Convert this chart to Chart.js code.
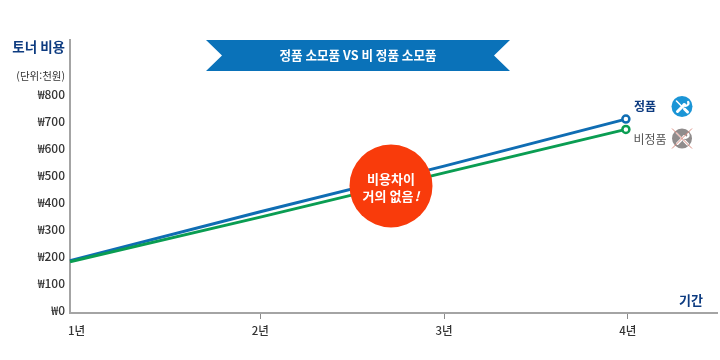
<!DOCTYPE html>
<html lang="ko">
<head>
<meta charset="utf-8">
<title>정품 소모품 VS 비 정품 소모품</title>
<style>
    html, body { margin: 0; padding: 0; background: #fff; }
    canvas { display: block; }
</style>
<script src="https://cdn.jsdelivr.net/npm/chart.js@4"></script>
</head>
<body>
<canvas id="toner-chart" width="720" height="360"></canvas>
<script>
// Values
const periods = [0.964, 2, 3, 3.99]; // the lines start on the axis, slightly left of the 1년 tick
const genuineCost = [183, 364, 533, 707];
const nonGenuineCost = [179, 344, 508, 669];
const xTickValues = [1, 2, 3, 4];
const xTickLabels = ['1년', '2년', '3년', '4년'];
const yTickValues = [0, 100, 200, 300, 400, 500, 600, 700, 800];

const FONT = '"Noto Sans CJK KR", "Noto Sans", sans-serif';
const NAVY = '#0d3b80';
const BLUE = '#0f6db3';
const GREEN = '#0a9d52';
const AXIS_GREY = '#a4a4a4';

function drawText(ctx, text, x, y, font, color, align) {
    ctx.font = font + ' ' + FONT;
    ctx.fillStyle = color;
    ctx.textAlign = align || 'left';
    ctx.textBaseline = 'middle';
    ctx.fillText(text, x, y);
}

function drawBanner(ctx) {
    ctx.fillStyle = '#0a72b9';
    ctx.beginPath();
    ctx.moveTo(206, 40);
    ctx.lineTo(510, 40);
    ctx.lineTo(494, 55.5);
    ctx.lineTo(510, 71);
    ctx.lineTo(206, 71);
    ctx.lineTo(222, 55.5);
    ctx.closePath();
    ctx.fill();
    drawText(ctx, '정품 소모품 VS 비 정품 소모품', 358, 55.5, 'bold 12.6px', '#fff', 'center');
}

function drawBubble(ctx) {
    ctx.fillStyle = '#f93b0b';
    ctx.beginPath();
    ctx.arc(391, 186, 41.5, 0, Math.PI * 2);
    ctx.fill();
    drawText(ctx, '비용차이', 391, 179.5, 'bold 13px', '#fff', 'center');
    drawText(ctx, '거의 없음', 388, 196.5, 'bold 13px', '#fff', 'center');
    drawText(ctx, '!', 417, 196.5, 'italic bold 13px', '#fff', 'center');
}

// Little wrench and screwdriver badge next to the series names
function drawToolIcon(ctx, cx, cy, radius, fill) {
    ctx.save();
    ctx.translate(cx, cy);
    ctx.fillStyle = fill;
    ctx.beginPath();
    ctx.arc(0, 0, radius, 0, Math.PI * 2);
    ctx.fill();
    ctx.strokeStyle = '#fff';
    ctx.lineCap = 'round';
    // wrench handle and open head
    ctx.lineWidth = 3;
    ctx.beginPath();
    ctx.moveTo(-4.5, 5);
    ctx.lineTo(2.5, -2);
    ctx.stroke();
    ctx.lineWidth = 2.2;
    ctx.beginPath();
    ctx.arc(3.8, -3.4, 2.6, -0.5, 2.6);
    ctx.stroke();
    // screwdriver
    ctx.lineWidth = 1.6;
    ctx.beginPath();
    ctx.moveTo(-5.5, -5.5);
    ctx.lineTo(1, 1);
    ctx.stroke();
    ctx.lineWidth = 3;
    ctx.beginPath();
    ctx.moveTo(2.5, 2.5);
    ctx.lineTo(5.5, 5.5);
    ctx.stroke();
    ctx.restore();
}

const decorations = {
    id: 'decorations',
    afterDatasetsDraw(chart) {
        const ctx = chart.ctx;
        ctx.save();
        drawText(ctx, '토너 비용', 65, 46.5, 'bold 13.5px', NAVY, 'right');
        drawText(ctx, '(단위:천원)', 65, 76, '10.5px', '#333', 'right');
        drawText(ctx, '기간', 691, 300, 'bold 13px', NAVY, 'center');
        drawBanner(ctx);
        drawBubble(ctx);

        drawText(ctx, '정품', 645, 106, 'bold 12px', NAVY, 'center');
        drawText(ctx, '비정품', 650, 139, '12px', '#555', 'center');
        drawToolIcon(ctx, 682, 106.5, 10.5, '#1b95d6');
        drawToolIcon(ctx, 682, 138.5, 10, '#908c8c');
        ctx.strokeStyle = '#d98b80';
        ctx.lineWidth = 1;
        ctx.beginPath();
        ctx.moveTo(672, 128.5);
        ctx.lineTo(692, 148.5);
        ctx.moveTo(692, 128.5);
        ctx.lineTo(672, 148.5);
        ctx.stroke();
        ctx.restore();
    }
};

function toPoints(values) {
    return values.map((value, i) => ({ x: periods[i], y: value }));
}

const ringRadius = periods.map((_, i) => (i === periods.length - 1 ? 3.5 : 0));

new Chart(document.getElementById('toner-chart').getContext('2d'), {
    type: 'line',
    data: {
        datasets: [
            {
                label: '비정품',
                data: toPoints(nonGenuineCost),
                borderColor: GREEN,
                borderWidth: 3,
                pointRadius: ringRadius,
                pointBorderWidth: 2.5,
                pointBorderColor: GREEN,
                pointBackgroundColor: '#fff',
                clip: false
            },
            {
                label: '정품',
                data: toPoints(genuineCost),
                borderColor: BLUE,
                borderWidth: 3,
                pointRadius: ringRadius,
                pointBorderWidth: 2.5,
                pointBorderColor: BLUE,
                pointBackgroundColor: '#fff',
                clip: false
            }
        ]
    },
    options: {
        responsive: false,
        animation: false,
        layout: { autoPadding: false, padding: { top: 40, right: 3, left: 0, bottom: 0 } },
        plugins: {
            legend: { display: false },
            tooltip: { enabled: false }
        },
        scales: {
            x: {
                type: 'linear',
                min: 0.964,
                max: 4.486,
                afterBuildTicks: axis => {
                    axis.ticks = xTickValues.map(value => ({ value }));
                },
                afterFit: axis => {
                    axis.height = 47;
                },
                border: { color: AXIS_GREY, width: 2 },
                grid: {
                    drawOnChartArea: false,
                    tickLength: 6,
                    tickWidth: 1,
                    tickColor: c => (c.index === 0 ? 'transparent' : '#8a8a8a')
                },
                ticks: {
                    autoSkip: false,
                    maxRotation: 0,
                    padding: 5,
                    color: '#333',
                    font: { family: FONT, size: 11.5, weight: '500' },
                    callback: (value, index) => xTickLabels[index]
                }
            },
            y: {
                min: -11,
                max: 1000,
                afterBuildTicks: axis => {
                    axis.ticks = yTickValues.map(value => ({ value }));
                },
                afterFit: axis => {
                    axis.width = 70;
                },
                border: { color: AXIS_GREY, width: 2 },
                grid: { drawOnChartArea: false, drawTicks: false },
                ticks: {
                    autoSkip: false,
                    padding: 5,
                    color: '#333',
                    font: { family: FONT, size: 12, weight: '500' },
                    callback: value => '₩' + value
                }
            }
        }
    },
    plugins: [decorations]
});
</script>
</body>
</html>
